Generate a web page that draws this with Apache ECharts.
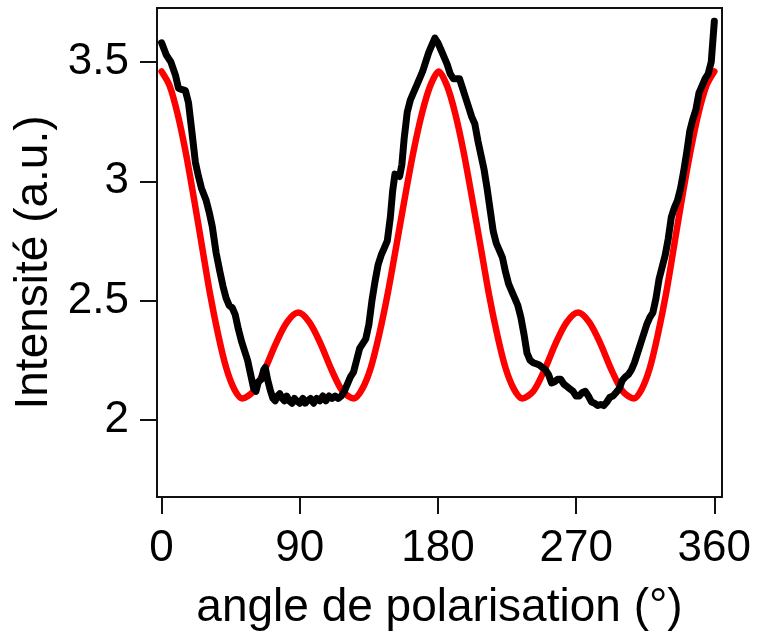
<!DOCTYPE html>
<html>
<head>
<meta charset="utf-8">
<script src="https://cdn.jsdelivr.net/npm/echarts@6/dist/echarts.min.js"></script>
<style>
html,body{margin:0;padding:0;background:#fff;}
#chart{width:757px;height:642px;}
</style>
</head>
<body>
<div id="chart"></div>
<script>
// Axis tick labels
const xTickValues = [0, 90, 180, 270, 360];
const yTickValues = [2, 2.5, 3, 3.5];

// Red (model) curve: angles (deg) and intensities
const redAngles = [
  0, 5.25, 10.5, 15.75, 21, 26.25, 31.5, 36.75, 42, 47.25, 52.5,
  59.8, 67.1, 74.4, 81.7, 89,
  96.2, 103.5, 110.7, 117.9, 125.2,
  130.7, 136.3, 141.8, 147.3, 152.9, 158.4, 163.9, 169.4, 175, 180.5,
  185.9, 191.4, 196.8, 202.2, 207.7, 213.1, 218.5, 223.9, 229.4, 234.8,
  242.1, 249.4, 256.6, 263.9, 271.2,
  278.5, 285.8, 293.0, 300.3, 307.6,
  312.8, 318.1, 323.3, 328.6, 333.8, 339.0, 344.3, 349.5, 354.8, 360
];
const redValues = [
  3.46, 3.40, 3.28, 3.12, 2.93, 2.73, 2.53, 2.36, 2.22, 2.13, 2.09,
  2.12, 2.21, 2.32, 2.41, 2.45,
  2.41, 2.32, 2.21, 2.12, 2.09,
  2.13, 2.22, 2.36, 2.53, 2.73, 2.93, 3.12, 3.28, 3.40, 3.46,
  3.40, 3.28, 3.12, 2.93, 2.73, 2.53, 2.36, 2.22, 2.13, 2.09,
  2.12, 2.21, 2.32, 2.41, 2.45,
  2.41, 2.32, 2.21, 2.12, 2.09,
  2.13, 2.22, 2.36, 2.53, 2.73, 2.93, 3.12, 3.28, 3.40, 3.46
];

// Black (measured) curve: angles (deg) and intensities
const blackAngles = [
  0, 3, 6, 9, 11, 13, 15.5, 17.5, 19.5, 22, 24, 26, 29, 31, 33, 35.5, 38, 40, 42, 44,
  46, 48, 50, 52, 54, 56, 58, 60, 61.5, 63, 65, 66.5, 67.5, 69, 71, 72.5, 74, 75.5, 77, 78.5,
  80, 81.5, 83, 85, 86.5, 88, 90, 92, 93.5, 95, 97, 99, 101, 103, 105, 107, 109, 111, 113, 115,
  117, 119, 121, 123, 125, 127, 129, 131, 133, 135, 137, 139, 141, 143, 145, 147, 149, 150.5, 152, 155,
  156.5, 158, 160, 162, 164, 166, 168, 170, 172, 174, 176, 178, 180, 182, 184, 186, 188, 190, 192, 194,
  196, 198, 200, 202, 204, 206, 208, 210, 212, 214, 216, 218, 220, 222, 224, 226, 228, 230, 232, 234,
  236, 238, 240, 242, 244, 246, 248, 250, 252, 254, 256, 258, 260, 262, 264, 266, 268, 270, 272, 274,
  276, 278, 280, 282, 284, 286, 288, 290, 292, 294, 296, 298, 300, 302, 304, 306, 308, 310, 312, 314,
  316, 318, 320, 322, 324, 326, 328, 330, 332, 334, 336, 338, 340, 342, 344, 346, 348, 350, 352, 354,
  356, 358, 360
];
const blackValues = [
  3.58, 3.53, 3.50, 3.445, 3.39, 3.385, 3.38, 3.33, 3.22, 3.08, 3.02, 2.97, 2.92, 2.87, 2.81, 2.70, 2.62, 2.56, 2.51, 2.48,
  2.47, 2.44, 2.38, 2.33, 2.29, 2.25, 2.19, 2.13, 2.12, 2.16, 2.17, 2.21, 2.22, 2.17, 2.12, 2.09, 2.08, 2.10, 2.11, 2.09,
  2.08, 2.10, 2.08, 2.07, 2.09, 2.08, 2.07, 2.09, 2.07, 2.08, 2.09, 2.07, 2.09, 2.08, 2.10, 2.08, 2.10, 2.09, 2.10, 2.09,
  2.10, 2.12, 2.15, 2.18, 2.20, 2.25, 2.30, 2.32, 2.34, 2.40, 2.50, 2.58, 2.65, 2.69, 2.72, 2.75, 2.85, 2.96, 3.03, 3.02,
  3.07, 3.18, 3.29, 3.34, 3.37, 3.40, 3.43, 3.46, 3.50, 3.54, 3.57, 3.60, 3.58, 3.55, 3.52, 3.49, 3.45, 3.43, 3.43, 3.43,
  3.39, 3.35, 3.31, 3.27, 3.24, 3.17, 3.11, 3.05, 2.97, 2.88, 2.79, 2.74, 2.71, 2.68, 2.62, 2.57, 2.54, 2.51, 2.48, 2.43,
  2.36, 2.28, 2.25, 2.24, 2.235, 2.23, 2.22, 2.21, 2.19, 2.155, 2.16, 2.17, 2.17, 2.15, 2.14, 2.13, 2.12, 2.10, 2.10, 2.115,
  2.12, 2.10, 2.075, 2.07, 2.06, 2.065, 2.06, 2.075, 2.095, 2.10, 2.115, 2.13, 2.165, 2.18, 2.19, 2.21, 2.24, 2.28, 2.32, 2.36,
  2.40, 2.43, 2.45, 2.51, 2.59, 2.64, 2.69, 2.76, 2.85, 2.89, 2.92, 2.97, 3.04, 3.12, 3.21, 3.26, 3.30, 3.37, 3.40, 3.43,
  3.45, 3.50, 3.67
];

const redData = redAngles.map((a, i) => [a, redValues[i]]);
const blackData = blackAngles.map((a, i) => [a, blackValues[i]]);

const FONT = "'Liberation Sans', Arial, sans-serif";
const chart = echarts.init(document.getElementById('chart'), null, {renderer: 'canvas'});
chart.setOption({
  backgroundColor: '#ffffff',
  animation: false,
  grid: {left: 157, top: 8, right: 35, bottom: 145, show: true, borderColor: '#111', borderWidth: 2, backgroundColor: 'transparent'},
  xAxis: {
    type: 'value', min: -3, max: 365,
    name: 'angle de polarisation (°)', nameLocation: 'middle', nameGap: 88,
    nameTextStyle: {fontSize: 46, color: '#000', fontFamily: FONT},
    axisLine: {show: true, onZero: false, lineStyle: {color: '#111', width: 2}},
    axisTick: {show: true, length: 17, lineStyle: {color: '#111', width: 2}, customValues: xTickValues},
    axisLabel: {customValues: xTickValues, fontSize: 44, color: '#000', fontFamily: FONT, margin: 30},
    splitLine: {show: false}
  },
  yAxis: {
    type: 'value', min: 1.677, max: 3.726,
    name: 'Intensité (a.u.)', nameLocation: 'middle', nameGap: 100,
    nameTextStyle: {fontSize: 46, color: '#000', fontFamily: FONT, padding: [0, 20, 0, 0]},
    axisLine: {show: true, onZero: false, lineStyle: {color: '#111', width: 2}},
    axisTick: {show: true, length: 17, lineStyle: {color: '#111', width: 2}, customValues: yTickValues},
    axisLabel: {customValues: yTickValues, fontSize: 44, color: '#000', fontFamily: FONT, margin: 28,
      formatter: v => String(v)},
    splitLine: {show: false}
  },
  series: [
    {type: 'line', data: redData, showSymbol: false, smooth: 0.3, z: 2,
     lineStyle: {color: '#ff0000', width: 6.5, cap: 'round', join: 'round'}},
    {type: 'line', data: blackData, showSymbol: false, smooth: false, z: 3,
     lineStyle: {color: '#000000', width: 7, cap: 'round', join: 'round'}}
  ]
});
</script>
</body>
</html>
